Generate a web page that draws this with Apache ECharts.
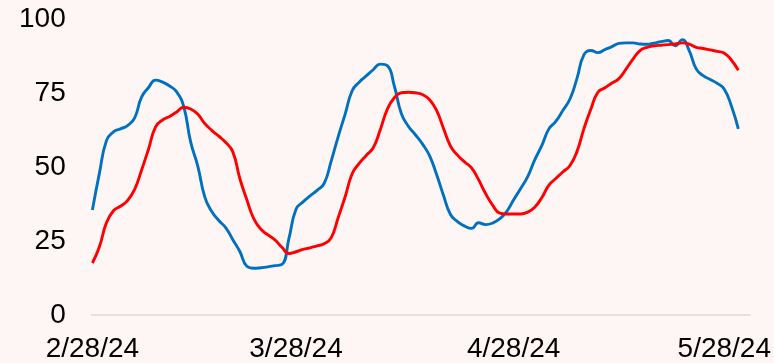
<!DOCTYPE html>
<html>
<head>
<meta charset="utf-8">
<script src="https://cdn.jsdelivr.net/npm/echarts@6/dist/echarts.min.js"></script>
<style>
  html, body { margin: 0; padding: 0; background: #fef5f5; }
  #chart { width: 774px; height: 363px; }
</style>
</head>
<body>
<div id="chart"></div>
<script>
// Daily readings, day 0 = 2/28/24
const blueValues = [
  35.5, 48, 59, 62, 63, 64.1, 66.6, 73.7, 77, 79.5,
  78.8, 77.5, 75.5, 70.6, 58.5, 50.5, 40, 35, 32, 29.5,
  25.5, 21.5, 16.5, 15.8, 16, 16.3, 16.7, 17.1, 26, 35.8,
  38.3, 40.3, 42.2, 44.5, 52, 60.3, 68, 75.9, 78.8, 80.9,
  83, 84.9, 84.4, 77.5, 68.2, 63.9, 61, 57.9, 54, 47.7,
  40.5, 34, 31.6, 30.1, 29.3, 31.2, 30.6, 31.1, 32.5, 35,
  39, 42.8, 46.8, 52.5, 57.3, 62.9, 65.5, 69.2, 73, 79.9,
  88, 89.5, 88.8, 89.8, 90.8, 91.9, 92.1, 92.1, 91.7, 91.6,
  92, 92.5, 92.9, 91.1, 93.2, 89.5, 83.3, 81, 79.7, 78.4,
  76.4, 70.8, 63
];
const redValues = [
  17.6, 23.1, 31.2, 35.3, 36.8, 38.7, 42.4, 49, 56.2, 63.7,
  66, 67.2, 68.7, 70.3, 69.7, 68, 64.8, 62.5, 60.5, 58.4,
  55.2, 46.2, 39, 32.5, 29, 27.1, 25.4, 22.9, 20.8, 21.4,
  22.2, 22.7, 23.4, 24.1, 26.1, 32.9, 40, 47.8, 51.3, 54,
  56.6, 62.7, 69.6, 73.5, 75.2, 75.4, 75.2, 74.6, 72.9, 69.3,
  63.2, 57.2, 54.1, 51.8, 49.8, 45.8, 41.1, 37.2, 34.5, 34.2,
  34.2, 34.2, 34.8, 36.5, 39.7, 43.9, 46.2, 48.4, 50.5, 55.2,
  63, 69.7, 75.4, 76.9, 78.5, 80, 83.2, 86.6, 89.5, 90.6,
  91.1, 91.3, 91.5, 91.7, 92.1, 91.7, 90.6, 90.2, 89.7, 89.2,
  88.6, 86.3, 82.8
];

// Date ticks on the horizontal axis (days since 2/28/24)
const tickDays = [0, 29, 60, 90];
const tickLabels = ['2/28/24', '3/28/24', '4/28/24', '5/28/24'];

const toPairs = vals => vals.map((v, i) => [i, v]);

const chart = echarts.init(document.getElementById('chart'), null, { renderer: 'canvas' });
chart.setOption({
  backgroundColor: '#fef5f5',
  animation: false,
  grid: { left: 91.7, right: 24, top: 19.5, bottom: 46.5, containLabel: false },
  xAxis: {
    type: 'value',
    min: -0.1,
    max: 93.66,
    splitLine: { show: false },
    axisTick: { show: false, customValues: tickDays },
    axisLine: { show: true, lineStyle: { color: '#d9d9d9', width: 1.5 } },
    axisLabel: {
      customValues: tickDays,
      margin: 20,
      color: '#000',
      fontFamily: 'Liberation Sans, Arial, sans-serif',
      fontSize: 28,
      formatter: v => {
        const k = tickDays.indexOf(Math.round(v));
        return k >= 0 ? tickLabels[k] : '';
      }
    }
  },
  yAxis: {
    type: 'value',
    min: 0,
    max: 100,
    interval: 25,
    splitLine: { show: false },
    axisLine: { show: false },
    axisTick: { show: false },
    axisLabel: {
      margin: 26,
      color: '#000',
      fontFamily: 'Liberation Sans, Arial, sans-serif',
      fontSize: 28
    }
  },
  series: [
    {
      type: 'line',
      data: toPairs(blueValues),
      smooth: true,
      symbol: 'none',
      lineStyle: { color: '#0070c0', width: 2.9 }
    },
    {
      type: 'line',
      data: toPairs(redValues),
      smooth: true,
      symbol: 'none',
      lineStyle: { color: '#ff0000', width: 2.9 }
    }
  ]
});
</script>
</body>
</html>
